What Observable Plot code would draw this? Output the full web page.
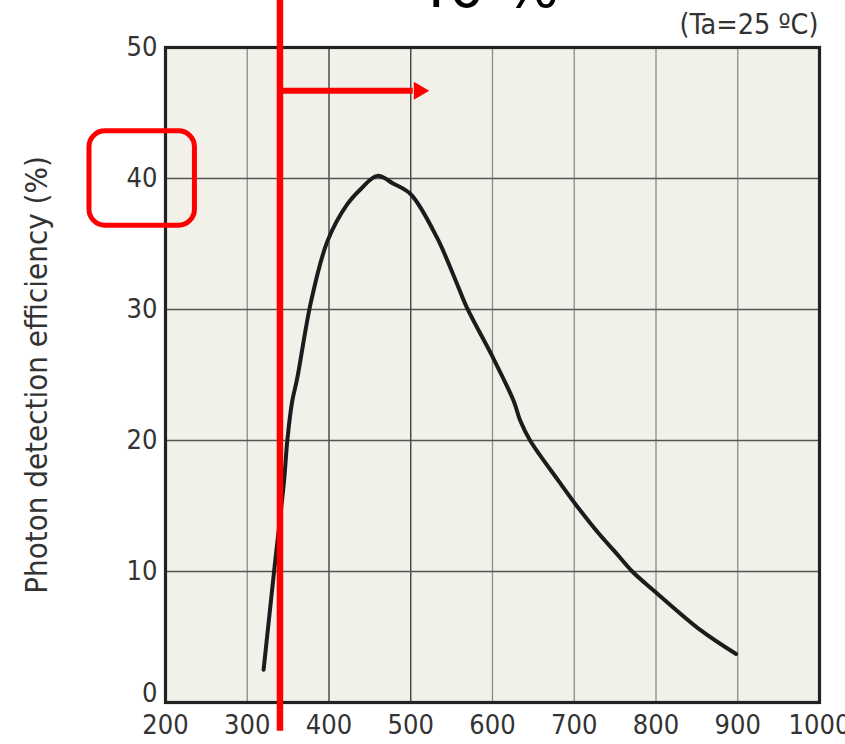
<!DOCTYPE html>
<html>
<head>
<meta charset="utf-8">
<script src="https://cdn.jsdelivr.net/npm/d3@7"></script>
<script src="https://cdn.jsdelivr.net/npm/@observablehq/plot@0.6"></script>
<style>
  html, body { margin: 0; padding: 0; background: #fff; }
  #chart svg { display: block; }
</style>
</head>
<body>
<div id="chart"></div>
<script>
// Photon detection efficiency vs. wavelength (Ta = 25 °C)
const wavelength = [320, 333, 345, 349, 355, 361, 378, 398, 422, 439, 459, 479, 500, 532, 555, 569, 600, 626, 634, 646, 681, 702, 730, 750, 771, 800, 855, 898];
const efficiency = [2.5, 10.1, 16.9, 20.0, 23.0, 24.7, 30.6, 35.2, 38.0, 39.2, 40.2, 39.6, 38.8, 35.5, 32.2, 30.1, 26.4, 23.0, 21.5, 20.0, 16.9, 15.1, 12.9, 11.5, 10.0, 8.4, 5.5, 3.7];

const xTicks = [200, 300, 400, 500, 600, 700, 800, 900, 1000];
const yTicks = [0, 10, 20, 30, 40, 50];
const gridXMajor = [400, 500];
const gridXMinor = [300, 600, 700, 800, 900];
const gridY = [10, 20, 30, 40];

// Red annotations: cut-off marker, direction arrow, highlighted 40 % tick
const cutoffWavelength = [340];
const cutoffSpan = [-2.2, 53.7];
const arrowSpan = [340, 503];
const arrowLevel = [46.7];
const arrowHead = [510];
const highlightX = [107, 236];
const highlightY = [36.4, 43.6];

const headline = "40 %";
const headlinePos = {x: 591, y: 54.5};
const conditions = "(Ta=25 ºC)";
const yLabel = "Photon detection efficiency (%)";

const curve = wavelength.map((w, i) => ({w, e: efficiency[i]}));
const font = "'DejaVu Sans Condensed', 'DejaVu Sans', sans-serif";
const labelColor = "#333";

const chart = Plot.plot({
  width: 845,
  height: 744,
  marginLeft: 165,
  marginRight: 26,
  marginTop: 47,
  marginBottom: 42,
  style: {fontFamily: font, fontSize: "27px", color: labelColor, background: "#fff", overflow: "visible"},
  x: {domain: [200, 1000], ticks: xTicks, tickFormat: d => String(d), tickSize: 0, tickPadding: 12, label: null},
  y: {domain: [0, 50], axis: null},
  marks: [
    Plot.frame({fill: "#f1f0e9", stroke: "none"}),
    Plot.ruleX(gridXMinor, {stroke: "#8c8c88", strokeWidth: 1.3}),
    Plot.ruleX(gridXMajor, {stroke: "#333", strokeWidth: 1.3}),
    Plot.ruleY(gridY, {stroke: "#555", strokeWidth: 1.3}),
    Plot.frame({stroke: "#222", strokeWidth: 3.2}),
    // y tick labels; the 0 label sits a little higher, clear of the x labels
    Plot.text(yTicks.filter(t => t > 0), {x: xTicks[0], y: d => d, text: d => String(d), textAnchor: "end", dx: -8, fontSize: 27, fill: labelColor}),
    Plot.text(yTicks.filter(t => t === 0), {x: xTicks[0], y: d => d, text: d => String(d), textAnchor: "end", dx: -8, dy: -9, fontSize: 27, fill: labelColor}),
    Plot.line(curve, {x: "w", y: "e", stroke: "#1c1c1c", strokeWidth: 4, curve: "catmull-rom", strokeLinecap: "round", strokeLinejoin: "round"}),
    Plot.ruleX(cutoffWavelength, {x: d => d, y1: cutoffSpan[0], y2: cutoffSpan[1], stroke: "#ff0000", strokeWidth: 6.5}),
    Plot.ruleY(arrowLevel, {y: d => d, x1: arrowSpan[0], x2: arrowSpan[1], stroke: "#ff0000", strokeWidth: 6}),
    Plot.dot(arrowHead, {x: d => d, y: arrowLevel[0], symbol: "triangle2", r: 8.5, rotate: 90, fill: "#ff0000", stroke: "none"}),
    Plot.rect([0], {x1: highlightX[0], x2: highlightX[1], y1: highlightY[0], y2: highlightY[1], rx: 16, fill: "none", stroke: "#ff0000", strokeWidth: 5}),
    Plot.text([headline], {x: headlinePos.x, y: headlinePos.y, text: d => d, fontSize: 58, fill: "#000", fontFamily: "'DejaVu Sans', sans-serif"}),
    Plot.text([conditions], {x: xTicks[xTicks.length - 1], y: 51.7, text: d => d, textAnchor: "end", dx: -1, fontSize: 28.5, fill: labelColor}),
    Plot.text([yLabel], {x: 43, y: 25, text: d => d, rotate: -90, fontSize: 31, fill: labelColor})
  ]
});

document.getElementById("chart").appendChild(chart);
</script>
</body>
</html>
